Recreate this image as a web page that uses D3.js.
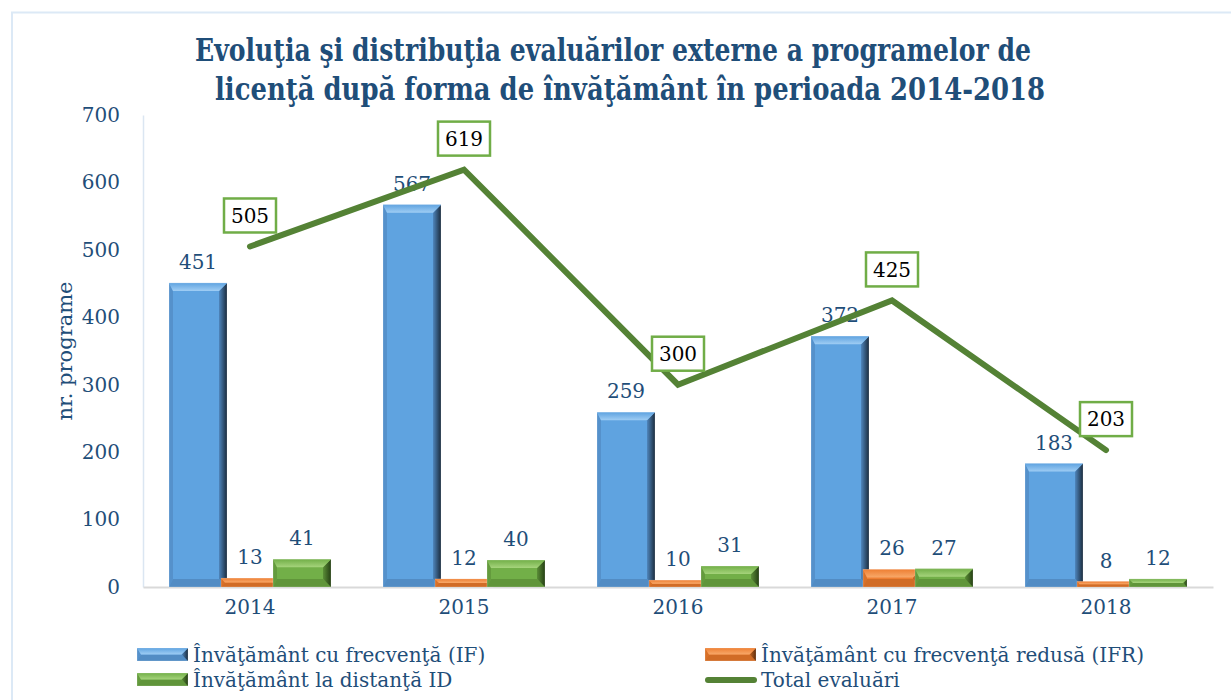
<!DOCTYPE html>
<html>
<head>
<meta charset="utf-8">
<script src="https://cdn.jsdelivr.net/npm/d3@7/dist/d3.min.js"></script>
<style>
  body { margin: 0; background: #fff; }
  svg { display: block; }
  text { font-family: "DejaVu Serif", serif; }
</style>
</head>
<body>
<div id="chart"></div>
<script>
const years = ["2014", "2015", "2016", "2017", "2018"];
const valIF = [451, 567, 259, 372, 183];
const valIFR = [13, 12, 10, 26, 8];
const valID = [41, 40, 31, 27, 12];
const totals = [505, 619, 300, 425, 203];
const yTicks = [0, 100, 200, 300, 400, 500, 600, 700];

const seriesNames = [
  "Învăţământ cu frecvenţă (IF)",
  "Învăţământ cu frecvenţă redusă (IFR)",
  "Învăţământ la distanţă ID",
  "Total evaluări"
];
const titleLines = [
  "Evoluţia şi distribuţia evaluărilor externe a programelor de",
  "licenţă după forma de învăţământ în perioada 2014-2018"
];

const width = 1231;
const height = 700;
const textBlue = "#1f4e79";

// bevel colour sets: base, light (top), mid (left/bottom), dark (right)
const palettes = [
  { base: "#5fa3e0", light: "#9fcdf4", mid: "#4f86bd", dark: "#1b2c3e" },
  { base: "#ee7f33", light: "#f8a96a", mid: "#c96823", dark: "#5e2c0b" },
  { base: "#72af48", light: "#a6d47c", mid: "#5b8e37", dark: "#253f14" }
];

const svg = d3.select("#chart").append("svg")
  .attr("width", width)
  .attr("height", height);

const defs = svg.append("defs");
palettes.forEach((p, i) => {
  const g = defs.append("linearGradient")
    .attr("id", "rightEdge" + i)
    .attr("x1", "0").attr("x2", "1").attr("y1", "0").attr("y2", "0");
  g.append("stop").attr("offset", "0%").attr("stop-color", p.mid);
  g.append("stop").attr("offset", "100%").attr("stop-color", p.dark);
  const t = defs.append("linearGradient")
    .attr("id", "topEdge" + i)
    .attr("x1", "0").attr("x2", "0").attr("y1", "0").attr("y2", "1");
  t.append("stop").attr("offset", "0%").attr("stop-color", p.base);
  t.append("stop").attr("offset", "100%").attr("stop-color", p.light);
});

// outer frame
svg.append("rect")
  .attr("x", 12).attr("y", 12.5)
  .attr("width", 1300).attr("height", 800)
  .attr("fill", "none")
  .attr("stroke", "#dce9f6")
  .attr("stroke-width", 2);

const plot = { left: 143, right: 1213, top: 115, bottom: 587 };

const x = d3.scaleBand()
  .domain(years)
  .range([plot.left, plot.right]);

const y = d3.scaleLinear()
  .domain([0, 700])
  .range([plot.bottom, plot.top]);

// title
const titleX = [613, 630];
const titleW = [836, 830];
svg.append("g")
  .selectAll("text")
  .data(titleLines)
  .join("text")
  .attr("x", (d, i) => titleX[i])
  .attr("y", (d, i) => 61 + i * 39)
  .attr("text-anchor", "middle")
  .attr("font-size", 31)
  .attr("font-weight", "bold")
  .attr("fill", textBlue)
  .attr("textLength", (d, i) => titleW[i])
  .attr("lengthAdjust", "spacingAndGlyphs")
  .text(d => d);

// y axis
const yAxis = svg.append("g")
  .attr("transform", `translate(${plot.left},0)`)
  .call(d3.axisLeft(y).tickValues(yTicks).tickSize(0).tickPadding(23));
yAxis.select(".domain").attr("stroke", "#dbe6f2").attr("stroke-width", 1.5);
yAxis.selectAll("text")
  .attr("font-family", "DejaVu Serif")
  .attr("font-size", 20)
  .attr("fill", textBlue);

svg.append("text")
  .attr("transform", "translate(72,351) rotate(-90)")
  .attr("text-anchor", "middle")
  .attr("font-size", 21)
  .attr("fill", textBlue)
  .text("nr. programe");

// x axis
const xAxis = svg.append("g")
  .attr("transform", `translate(0,${plot.bottom})`)
  .call(d3.axisBottom(x).tickSize(0).tickPadding(13));
xAxis.select(".domain").attr("stroke", "#d9d9d9").attr("stroke-width", 2);
xAxis.selectAll("text")
  .attr("font-family", "DejaVu Serif")
  .attr("font-size", 20)
  .attr("fill", textBlue);

// bevelled bar drawing
function bevelBar(g, x0, y0, w, h, p, i) {
  if (h <= 0) return;
  const b = Math.min(8, h / 2, w / 2);
  const bl = Math.min(4, h / 2);
  const pts = arr => arr.map(d => d.join(",")).join(" ");
  g.append("rect").attr("x", x0).attr("y", y0).attr("width", w).attr("height", h).attr("fill", p.base);
  g.append("polygon").attr("points", pts([[x0, y0], [x0 + bl, y0 + b], [x0 + bl, y0 + h - b], [x0, y0 + h]])).attr("fill", p.mid).attr("opacity", 0.6);
  g.append("polygon").attr("points", pts([[x0, y0 + h], [x0 + bl, y0 + h - b], [x0 + w - b, y0 + h - b], [x0 + w, y0 + h]])).attr("fill", p.mid).attr("opacity", 0.8);
  g.append("polygon").attr("points", pts([[x0 + w, y0], [x0 + w, y0 + h], [x0 + w - b, y0 + h - b], [x0 + w - b, y0 + b]])).attr("fill", `url(#rightEdge${i})`);
  g.append("polygon").attr("points", pts([[x0, y0], [x0 + w, y0], [x0 + w - b, y0 + b], [x0 + bl, y0 + b]])).attr("fill", `url(#topEdge${i})`);
  g.append("rect").attr("x", x0).attr("y", y0).attr("width", w).attr("height", h)
    .attr("fill", "none").attr("stroke", "#ffffff").attr("stroke-opacity", 0.25).attr("stroke-width", 0.8);
}

const seriesVals = [valIF, valIFR, valID];
const offsets = [-52, 0, 52];
const barW = 58;

const bars = svg.append("g").attr("class", "bars");
seriesVals.forEach((vals, s) => {
  const gs = bars.append("g");
  vals.forEach((v, k) => {
    const cx = x(years[k]) + x.bandwidth() / 2 + offsets[s];
    bevelBar(gs, cx - barW / 2, y(v), barW, y(0) - y(v), palettes[s], s);
  });
});

// bar value labels
seriesVals.forEach((vals, s) => {
  svg.append("g")
    .selectAll("text")
    .data(vals)
    .join("text")
    .attr("x", (d, k) => x(years[k]) + x.bandwidth() / 2 + offsets[s])
    .attr("y", d => y(d) - 14)
    .attr("text-anchor", "middle")
    .attr("font-size", 20)
    .attr("fill", textBlue)
    .text(d => d);
});

// total line
const line = d3.line()
  .x((d, k) => x(years[k]) + x.bandwidth() / 2)
  .y(d => y(d));

svg.append("path")
  .datum(totals)
  .attr("d", line)
  .attr("fill", "none")
  .attr("stroke", "#548235")
  .attr("stroke-width", 6)
  .attr("stroke-linecap", "round")
  .attr("stroke-linejoin", "miter");

// total labels in boxes
const totalLabels = svg.append("g")
  .selectAll("g")
  .data(totals)
  .join("g")
  .attr("transform", (d, k) => `translate(${x(years[k]) + x.bandwidth() / 2},${y(d) - 31})`);

totalLabels.append("rect")
  .attr("x", -26).attr("y", -17)
  .attr("width", 52).attr("height", 34)
  .attr("fill", "#fff")
  .attr("stroke", "#70ad47")
  .attr("stroke-width", 2.5);

totalLabels.append("text")
  .attr("text-anchor", "middle")
  .attr("dy", "0.36em")
  .attr("font-family", "Open Sans, sans-serif")
  .attr("font-size", 20)
  .attr("fill", "#000")
  .text(d => d);

// legend
const legendItems = [
  { name: seriesNames[0], kind: "bar", pal: 0, x: 137, y: 648 },
  { name: seriesNames[1], kind: "bar", pal: 1, x: 705, y: 648 },
  { name: seriesNames[2], kind: "bar", pal: 2, x: 137, y: 673 },
  { name: seriesNames[3], kind: "line", x: 705, y: 673 }
];

const legend = svg.append("g");
legendItems.forEach(it => {
  const g = legend.append("g");
  if (it.kind === "bar") {
    bevelBar(g, it.x, it.y, 51, 13, palettes[it.pal], it.pal);
  } else {
    g.append("line")
      .attr("x1", it.x + 3).attr("x2", it.x + 49)
      .attr("y1", it.y + 7).attr("y2", it.y + 7)
      .attr("stroke", "#548235").attr("stroke-width", 6).attr("stroke-linecap", "round");
  }
  g.append("text")
    .attr("x", it.x + 56)
    .attr("y", it.y + 14)
    .attr("font-size", 20)
    .attr("fill", textBlue)
    .text(it.name);
});
</script>
</body>
</html>
